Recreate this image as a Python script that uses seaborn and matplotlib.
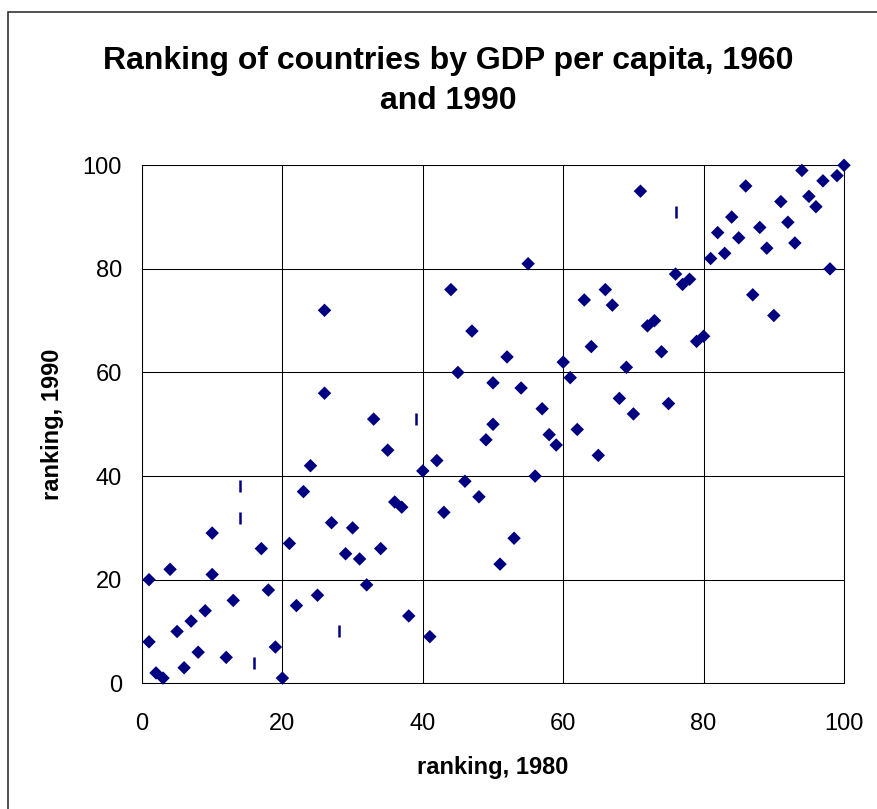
import matplotlib
matplotlib.use("Agg")
import matplotlib.pyplot as plt
from matplotlib.patches import Rectangle
import seaborn as sns
import pandas as pd

# Country rankings (1 = poorest) in 1980 and 1990
rank_1980 = [1, 1, 2, 3, 4, 5, 6, 7, 8, 9, 10, 10, 12, 13, 17, 18, 19, 20, 21, 22,
             23, 24, 25, 26, 26, 27, 29, 30, 31, 32, 33, 34, 35, 36, 37, 38, 40, 41, 42, 43,
             44, 45, 46, 47, 48, 49, 50, 50, 51, 52, 53, 54, 55, 56, 57, 58, 59, 60, 61, 62,
             63, 64, 65, 66, 67, 68, 69, 70, 71, 72, 73, 74, 75, 76, 77, 78, 79, 80, 81, 82,
             83, 84, 85, 86, 87, 88, 89, 90, 91, 92, 93, 94, 95, 96, 97, 98, 99, 100]
rank_1990 = [20, 8, 2, 1, 22, 10, 3, 12, 6, 14, 29, 21, 5, 16, 26, 18, 7, 1, 27, 15,
             37, 42, 17, 72, 56, 31, 25, 30, 24, 19, 51, 26, 45, 35, 34, 13, 41, 9, 43, 33,
             76, 60, 39, 68, 36, 47, 58, 50, 23, 63, 28, 57, 81, 40, 53, 48, 46, 62, 59, 49,
             74, 65, 44, 76, 73, 55, 61, 52, 95, 69, 70, 64, 54, 79, 77, 78, 66, 67, 82, 87,
             83, 90, 86, 96, 75, 88, 84, 71, 93, 89, 85, 99, 94, 92, 97, 80, 98, 100]

# Entries drawn with a short vertical bar instead of a diamond
bar_1980 = [14, 14, 16, 28, 39, 76]
bar_1990 = [38, 32, 4, 10, 51, 91]

ticks = [0, 20, 40, 60, 80, 100]

sns.set_style("white")
plt.rcParams["font.family"] = ["Liberation Sans", "DejaVu Sans"]
plt.rcParams["text.color"] = "black"
plt.rcParams["axes.labelcolor"] = "black"
plt.rcParams["xtick.color"] = "black"
plt.rcParams["ytick.color"] = "black"

fig = plt.figure(figsize=(8.77, 8.09), dpi=100)
ax = fig.add_axes([0.1619, 0.1554, 0.8005, 0.6403])

ax.grid(True, color="black", linewidth=0.75)
ax.set_axisbelow(True)

main = pd.DataFrame({"r1980": rank_1980, "r1990": rank_1990})
bars = pd.DataFrame({"r1980": bar_1980, "r1990": bar_1990})

sns.scatterplot(data=main, x="r1980", y="r1990", marker="D", s=47,
                color="#000080", edgecolor="none", linewidth=0, ax=ax,
                clip_on=False, zorder=3)
sns.scatterplot(data=bars, x="r1980", y="r1990", marker="|", s=70,
                color="#000080", linewidth=1.8, ax=ax, zorder=3)

ax.set_xlim(0, 100)
ax.set_ylim(0, 100)
ax.set_xticks(ticks)
ax.set_yticks(ticks)
ax.set_xticklabels([str(t) for t in ticks])
ax.set_yticklabels([str(t) for t in ticks])
ax.tick_params(axis="both", which="major", direction="out", length=6.5,
               width=0.75, color="black", labelcolor="black", labelsize=17)
ax.tick_params(axis="x", pad=15)
ax.tick_params(axis="y", pad=8)
for side in ["left", "right", "top", "bottom"]:
    ax.spines[side].set_visible(True)
    ax.spines[side].set_color("black")
    ax.spines[side].set_linewidth(0.75)

ax.set_xlabel("ranking, 1980", fontsize=17, fontweight="bold", labelpad=15)
ax.set_ylabel("ranking, 1990", fontsize=17, fontweight="bold", labelpad=13)

fig.text(0.511, 0.943, "Ranking of countries by GDP per capita, 1960\nand 1990",
         ha="center", va="top", fontsize=23, fontweight="bold", linespacing=1.42)

# chart-area frame
fig.patches.append(Rectangle((8 / 877, -0.05), 1.1, (809 - 12) / 809 + 0.05,
                             transform=fig.transFigure, fill=False,
                             edgecolor="#333333", linewidth=1.2))

fig.savefig("out.png", dpi=100, facecolor="white")
